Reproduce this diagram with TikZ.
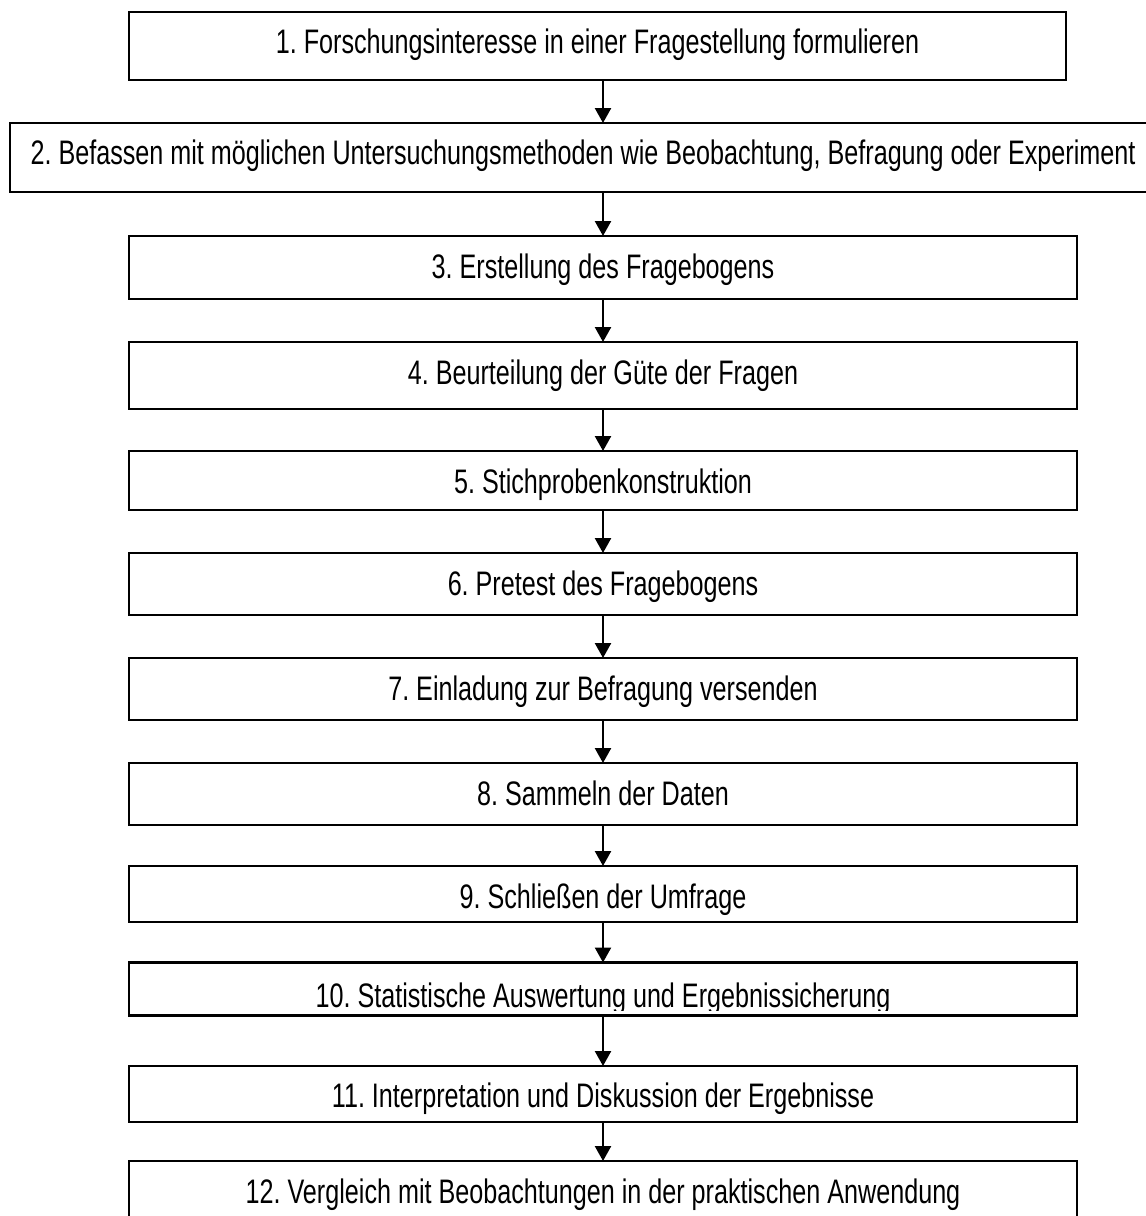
\documentclass[tikz,border=0pt]{standalone}
\usepackage{fontspec}
\setmainfont[FakeStretch=0.74]{Liberation Sans}
\usetikzlibrary{arrows.meta}
\begin{document}
\frenchspacing
\begin{tikzpicture}[x=1pt,y=-1pt,
  box/.style={draw=black, line width=2.4pt, rectangle, inner sep=0pt, outer sep=0pt},
  lbl/.style={anchor=base, inner sep=0pt, font=\fontsize{34}{40}\selectfont},
  conn/.style={line width=2.4pt, -{Triangle[width=16pt,length=15pt]}}]
\useasboundingbox (0,0) rectangle (1146,1216);
\clip (0,0) rectangle (1146,1216);
% boxes
\node[box, minimum width=937pt, minimum height=68pt] (b1) at (597.5,46) {};
\node[box, minimum width=1150pt, minimum height=69pt] (b2) at (585,157.5) {};
\node[box, minimum width=948pt, minimum height=63pt] (b3) at (603,267.5) {};
\node[box, minimum width=948pt, minimum height=67pt] (b4) at (603,375.5) {};
\node[box, minimum width=948pt, minimum height=59pt] (b5) at (603,480.5) {};
\node[box, minimum width=948pt, minimum height=62pt] (b6) at (603,584) {};
\node[box, minimum width=948pt, minimum height=62pt] (b7) at (603,689) {};
\node[box, minimum width=948pt, minimum height=62pt] (b8) at (603,794) {};
\node[box, minimum width=948pt, minimum height=56pt] (b9) at (603,894) {};
\node[box, minimum width=948pt, minimum height=53pt] (b10) at (603,989) {};
\node[box, minimum width=948pt, minimum height=56pt] (b11) at (603,1094) {};
\node[box, minimum width=948pt, minimum height=79pt] (b12) at (603,1200.5) {};
% labels
\node[lbl] (t1) at (597.5,53) {1. Forschungsinteresse in einer Fragestellung formulieren};
\node[lbl] (t2) at (583,164) {2. Befassen mit möglichen Untersuchungsmethoden wie Beobachtung, Befragung oder Experiment};
\node[lbl] (t3) at (603,278) {3. Erstellung des Fragebogens};
\node[lbl] (t4) at (603,384) {4. Beurteilung der Güte der Fragen};
\node[lbl] (t5) at (603,493) {5. Stichprobenkonstruktion};
\node[lbl] (t6) at (603,595) {6. Pretest des Fragebogens};
\node[lbl] (t7) at (603,700) {7. Einladung zur Befragung versenden};
\node[lbl] (t8) at (603,805) {8. Sammeln der Daten};
\node[lbl] (t9) at (603,908) {9. Schließen der Umfrage};
\node[lbl] (t10) at (603,1007) {10. Statistische Auswertung und Ergebnissicherung};
\node[lbl] (t11) at (603,1107) {11. Interpretation und Diskussion der Ergebnisse};
\node[lbl] (t12) at (603,1203) {12. Vergleich mit Beobachtungen in der praktischen Anwendung};
% descenders of label 10 are cut off above its box border
\fill[white] (250,1010.5) rectangle (950,1014.2);
% connectors
\draw[conn] (b3.north |- b1.south) -- (b3.north |- b2.north);
\draw[conn] (b3.north |- b2.south) -- (b3.north);
\draw[conn] (b3.south) -- (b4.north);
\draw[conn] (b4.south) -- (b5.north);
\draw[conn] (b5.south) -- (b6.north);
\draw[conn] (b6.south) -- (b7.north);
\draw[conn] (b7.south) -- (b8.north);
\draw[conn] (b8.south) -- (b9.north);
\draw[conn] (b9.south) -- (b10.north);
\draw[conn] (b10.south) -- (b11.north);
\draw[conn] (b11.south) -- (b12.north);
\end{tikzpicture}
\end{document}
